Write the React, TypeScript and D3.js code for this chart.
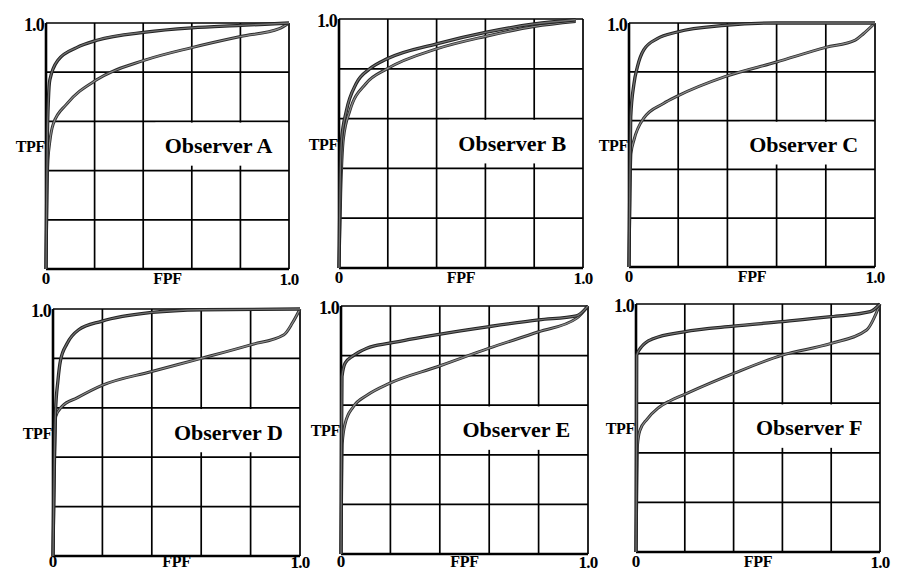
import React from "react";
import * as d3 from "d3";

type Pt = [number, number];

// ROC curves, [FPF, TPF]
const upperA: Pt[] = [[0, 0], [0.003, 0.3], [0.006, 0.55], [0.01, 0.69], [0.016, 0.77], [0.05, 0.85], [0.126, 0.9], [0.21, 0.93], [0.41, 0.963], [0.6, 0.98], [0.8, 0.99], [1, 1]];
const lowerA: Pt[] = [[0, 0], [0.004, 0.3], [0.008, 0.44], [0.016, 0.52], [0.03, 0.59], [0.085, 0.67], [0.21, 0.77], [0.41, 0.85], [0.6, 0.9], [0.8, 0.945], [0.96, 0.977], [1, 1]];
const upperB: Pt[] = [[0, 0], [0.004, 0.3], [0.01, 0.51], [0.03, 0.63], [0.07, 0.74], [0.126, 0.8], [0.197, 0.84], [0.4, 0.9], [0.6, 0.946], [0.8, 0.98], [0.97, 0.997]];
const lowerB: Pt[] = [[0, 0], [0.007, 0.3], [0.018, 0.52], [0.044, 0.63], [0.11, 0.74], [0.197, 0.8], [0.4, 0.88], [0.6, 0.93], [0.8, 0.97], [0.97, 0.99]];
const upperC: Pt[] = [[0, 0], [0.003, 0.3], [0.007, 0.615], [0.02, 0.75], [0.034, 0.82], [0.06, 0.89], [0.115, 0.936], [0.196, 0.963], [0.39, 0.99], [0.6, 1], [1, 1]];
const lowerC: Pt[] = [[0, 0], [0.004, 0.3], [0.008, 0.465], [0.02, 0.52], [0.06, 0.61], [0.14, 0.67], [0.196, 0.7], [0.39, 0.78], [0.6, 0.84], [0.8, 0.9], [0.92, 0.93], [0.953, 0.956], [1, 1]];
const upperD: Pt[] = [[0, 0], [0.004, 0.3], [0.01, 0.58], [0.02, 0.71], [0.03, 0.79], [0.057, 0.86], [0.104, 0.916], [0.196, 0.95], [0.4, 0.986], [0.6, 0.997], [1, 1]];
const lowerD: Pt[] = [[0, 0], [0.005, 0.3], [0.011, 0.565], [0.036, 0.605], [0.097, 0.64], [0.196, 0.69], [0.4, 0.747], [0.6, 0.8], [0.8, 0.855], [0.935, 0.896], [0.969, 0.943], [1, 1]];
const upperE: Pt[] = [[0, 0], [0.002, 0.4], [0.004, 0.715], [0.017, 0.77], [0.05, 0.8], [0.105, 0.83], [0.196, 0.85], [0.39, 0.885], [0.6, 0.917], [0.8, 0.944], [0.953, 0.96], [1, 1]];
const lowerE: Pt[] = [[0, 0], [0.003, 0.3], [0.005, 0.446], [0.017, 0.527], [0.05, 0.594], [0.105, 0.64], [0.196, 0.688], [0.39, 0.755], [0.6, 0.83], [0.8, 0.896], [0.953, 0.95], [1, 1]];
const upperF: Pt[] = [[0, 0], [0.002, 0.4], [0.003, 0.794], [0.023, 0.828], [0.07, 0.86], [0.197, 0.888], [0.4, 0.911], [0.6, 0.929], [0.8, 0.949], [0.96, 0.969], [1, 1]];
const lowerF: Pt[] = [[0, 0], [0.004, 0.3], [0.006, 0.43], [0.016, 0.49], [0.045, 0.535], [0.09, 0.58], [0.14, 0.61], [0.197, 0.635], [0.4, 0.72], [0.6, 0.794], [0.8, 0.841], [0.945, 0.895], [1, 1]];

const observers = ["A", "B", "C", "D", "E", "F"];
const upperCurves = [upperA, upperB, upperC, upperD, upperE, upperF];
const lowerCurves = [lowerA, lowerB, lowerC, lowerD, lowerE, lowerF];
const gridTicks = [0, 0.2, 0.4, 0.6, 0.8, 1];

// plot boxes on the page: [left, top, right, bottom]
const boxes = [
  [46, 23, 289, 269],
  [339, 19, 583, 268],
  [629, 23, 875, 267],
  [53, 309, 300, 556],
  [341, 306, 588, 554],
  [636, 304, 880, 552],
];

const font = "'Liberation Serif', 'Times New Roman', serif";

function Panel({ idx }: { idx: number }) {
  const [l, t, r, b] = boxes[idx];
  const x = d3.scaleLinear().domain([0, 1]).range([l, r]);
  const y = d3.scaleLinear().domain([0, 1]).range([b, t]);
  const line = d3
    .line<Pt>()
    .x((d) => x(d[0]))
    .y((d) => y(d[1]))
    .curve(d3.curveMonotoneX);

  const lo = line(lowerCurves[idx]) || "";
  const up = line(upperCurves[idx]) || "";
  // bottom labels sit just under the axis, kept inside the page
  const labelY = Math.min(y(0) + 15, 567);

  return (
    <g>
      {/* grid */}
      {gridTicks.map((v) => (
        <line key={"v" + v} x1={x(v)} x2={x(v)} y1={y(0)} y2={y(1)} stroke="#000" strokeWidth={1.7} />
      ))}
      {gridTicks.map((v) => (
        <line key={"h" + v} x1={x(0)} x2={x(1)} y1={y(v)} y2={y(v)} stroke="#000" strokeWidth={1.7} />
      ))}
      {/* white label box */}
      <rect x={x(0.45)} y={y(0.595)} width={x(0.99) - x(0.45)} height={y(0.42) - y(0.595)} fill="#fff" />
      {/* heavier left + bottom axes */}
      <line x1={x(0)} x2={x(0)} y1={y(0)} y2={y(1)} stroke="#000" strokeWidth={2.6} />
      <line x1={x(0)} x2={x(1)} y1={y(0)} y2={y(0)} stroke="#000" strokeWidth={2.4} />

      {/* curves */}
      <path d={lo} fill="none" stroke="#2e2e2e" strokeWidth={3} />
      <path d={lo} fill="none" stroke="#8c8c8c" strokeWidth={1.2} />
      <path d={up} fill="none" stroke="#222" strokeWidth={3.3} />
      <path d={up} fill="none" stroke="#707070" strokeWidth={1.3} />

      {/* labels */}
      <text x={x(0) - 2} y={y(1) + 8} textAnchor="end" fontFamily={font} fontWeight="bold" fontSize={18} letterSpacing={-0.8}>
        1.0
      </text>
      <text x={x(0) - 1} y={y(0.5) + 6} textAnchor="end" fontFamily={font} fontWeight="bold" fontSize={16} letterSpacing={-0.3}>
        TPF
      </text>
      <text x={x(0)} y={labelY} textAnchor="middle" fontFamily={font} fontWeight="bold" fontSize={17}>
        0
      </text>
      <text x={x(0.5)} y={labelY} textAnchor="middle" fontFamily={font} fontWeight="bold" fontSize={16} letterSpacing={-0.3}>
        FPF
      </text>
      <text x={x(1)} y={labelY + 1} textAnchor="middle" fontFamily={font} fontWeight="bold" fontSize={17} letterSpacing={-0.8}>
        1.0
      </text>
      <text x={x(0.71)} y={y(0.5) + 7} textAnchor="middle" fontFamily={font} fontWeight="bold" fontSize={22}>
        {"Observer " + observers[idx]}
      </text>
    </g>
  );
}

export default function App() {
  return (
    <svg
      width={897}
      height={573}
      style={{ position: "absolute", left: 0, top: 0, background: "#fff" }}
    >
      <rect width={897} height={573} fill="#fff" />
      {observers.map((o, i) => (
        <Panel key={o} idx={i} />
      ))}
    </svg>
  );
}
